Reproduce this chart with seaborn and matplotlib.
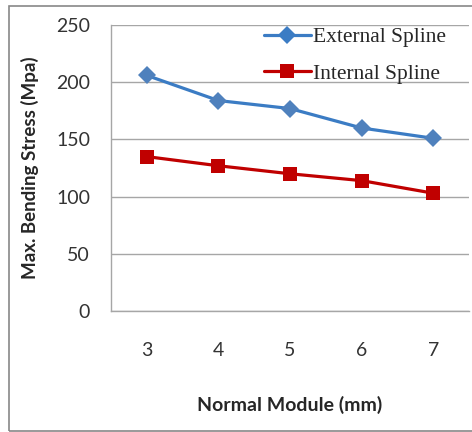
import pandas as pd
import matplotlib.pyplot as plt
import seaborn as sns
from matplotlib.patches import Rectangle

# data
modules = [3, 4, 5, 6, 7]
external_stress = [206, 184, 177, 160, 151]
internal_stress = [135, 127, 120, 114, 103]
series_names = ['External Spline', 'Internal Spline']

df = pd.DataFrame({
    'module': modules * 2,
    'stress': external_stress + internal_stress,
    'series': [series_names[0]] * len(modules) + [series_names[1]] * len(modules),
})

sns.set_style('white')
plt.rcParams['font.family'] = ['Lato', 'DejaVu Sans']

fig = plt.figure(figsize=(4.72, 4.32), dpi=100)
ax = fig.add_axes([0.235, 0.280, 0.759, 0.662])

sns.lineplot(data=df, x='module', y='stress', hue='series', style='series',
             palette={series_names[0]: '#3B7CC4', series_names[1]: '#C00000'},
             markers={series_names[0]: 'D', series_names[1]: 's'},
             dashes=False, linewidth=2.3, markersize=9.5, markeredgewidth=0,
             ax=ax)

# lighter diamond face for the external series
ax.lines[0].set_markerfacecolor('#4F81BD')

ax.set_xlim(2.5, 7.5)
ax.set_ylim(0, 250)
ax.set_yticks([0, 50, 100, 150, 200, 250])
ax.set_xticks(modules)
ax.yaxis.grid(True, color='#A6A6A6', linewidth=1)
ax.xaxis.grid(False)
for side in ['top', 'right']:
    ax.spines[side].set_visible(False)
for side in ['left', 'bottom']:
    ax.spines[side].set_color('#A6A6A6')
    ax.spines[side].set_linewidth(1)
ax.tick_params(axis='both', length=0, labelsize=14, colors='#333333')
ax.tick_params(axis='y', pad=15)
ax.tick_params(axis='x', pad=22)

ax.set_xlabel('Normal Module (mm)', fontsize=14, fontweight='bold', labelpad=27)
ax.set_ylabel('Max. Bending Stress (Mpa)', fontsize=13.5, fontweight='bold', labelpad=12)

leg = ax.legend(loc='upper right', bbox_to_anchor=(0.99, 1.06), frameon=False,
                prop={'family': 'Liberation Serif', 'size': 15.5},
                handlelength=2.2, handletextpad=0.1, labelspacing=0.75)

# outer chart border
fig.patches.append(Rectangle((9 / 472, 1 / 432), 1.0, 1 - 7 / 432, transform=fig.transFigure,
                             fill=False, edgecolor='#888888', linewidth=1.2))

fig.savefig('out.png', dpi=100)
